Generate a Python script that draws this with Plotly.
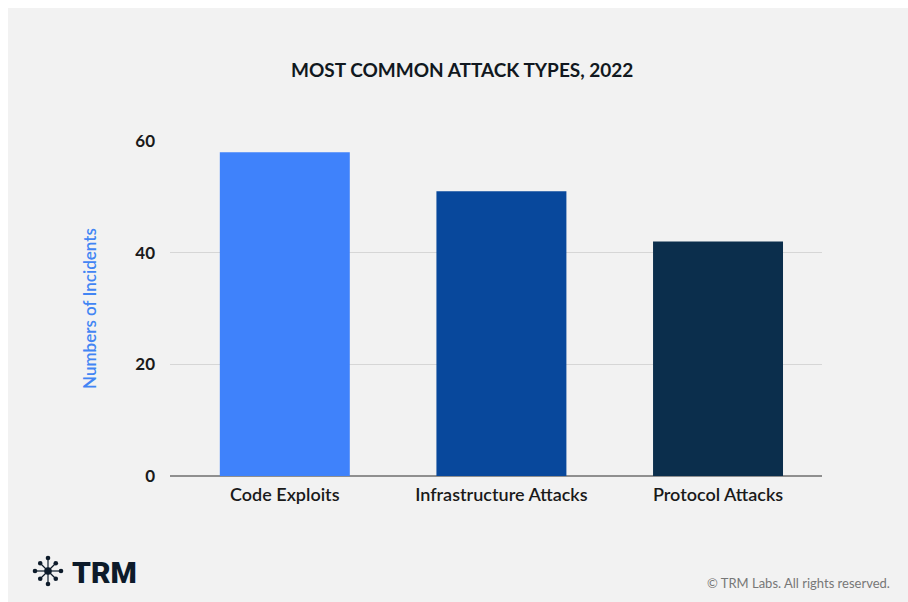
import math
import plotly.graph_objects as go

categories = ["Code Exploits", "Infrastructure Attacks", "Protocol Attacks"]
incidents = [58, 51, 42]
bar_colors = ["#3f82fb", "#08489c", "#0b2e4c"]
y_ticks = [0, 20, 40, 60]

W, H = 908, 602
ML, MR, MT, MB = 170, 86, 141, 126
PW, PH = W - ML - MR, H - MT - MB

def px(x):
    return (x - ML) / PW

def py(y):
    return (H - MB - y) / PH

fig = go.Figure(go.Bar(
    x=categories, y=incidents, marker_color=bar_colors,
    marker_line_width=0, width=0.6,
))

shapes = [
    dict(type="rect", xref="paper", yref="paper", x0=px(8), x1=px(W + 5),
         y0=py(H + 5), y1=py(8), fillcolor="#f2f2f2", line_width=0, layer="below"),
]
# logo icon
cx, cy = 48, 571
for k in range(8):
    a = k * math.pi / 4
    r = 13 if k % 2 == 0 else 11
    ex, ey = cx + r * math.cos(a), cy - r * math.sin(a)
    shapes.append(dict(type="line", xref="paper", yref="paper",
                       x0=px(cx), y0=py(cy), x1=px(ex), y1=py(ey),
                       line=dict(color="#0d1b2a", width=1.2)))
    shapes.append(dict(type="circle", xref="paper", yref="paper",
                       x0=px(ex - 2.3), x1=px(ex + 2.3), y0=py(ey + 2.3), y1=py(ey - 2.3),
                       fillcolor="#0d1b2a", line_width=0))
shapes.append(dict(type="circle", xref="paper", yref="paper",
                   x0=px(cx - 3.8), x1=px(cx + 3.8), y0=py(cy + 3.8), y1=py(cy - 3.8),
                   fillcolor="#0d1b2a", line_width=0))

annotations = [
    dict(text="<b>MOST COMMON ATTACK TYPES, 2022</b>", xref="paper", yref="paper",
         x=px(462), y=py(69), showarrow=False, xanchor="center", yanchor="middle",
         font=dict(family="Lato", size=19, color="#111820")),
    dict(text="TRM", xref="paper", yref="paper",
         x=px(70), y=py(572), showarrow=False, xanchor="left", yanchor="middle",
         font=dict(family="Roboto", size=30, color="#0d1b2a", weight=900)),
    dict(text="© TRM Labs. All rights reserved.", xref="paper", yref="paper",
         x=px(892), y=py(583), showarrow=False, xanchor="right", yanchor="middle",
         font=dict(family="Lato", size=13, color="#777777")),
]

fig.update_layout(
    width=W, height=H,
    margin=dict(l=ML, r=MR, t=MT, b=MB, autoexpand=False),
    paper_bgcolor="white", plot_bgcolor="rgba(0,0,0,0)",
    shapes=shapes, annotations=annotations,
    showlegend=False,
    font=dict(family="Lato", color="#1a1a1a"),
)
fig.update_xaxes(
    range=[-0.53, 2.48], showgrid=False, showline=False, ticks="",
    ticklabelstandoff=6,
    tickfont=dict(family="Lato", size=18, color="#1a1a1a", weight=600),
)
fig.update_yaxes(
    range=[0, 60], tickvals=y_ticks, showgrid=True, gridcolor="#d6d6d6", gridwidth=1,
    zeroline=True, zerolinecolor="#8f8f8f", zerolinewidth=1.5, showline=False,
    ticks="", ticklabelstandoff=14,
    tickfont=dict(family="Lato", size=17, color="#1a1a1a", weight="bold"),
    title=dict(text="Numbers of Incidents", standoff=34,
               font=dict(family="Lato", size=17, color="#4285f4", weight=600)),
)

fig.write_html("out.html")
